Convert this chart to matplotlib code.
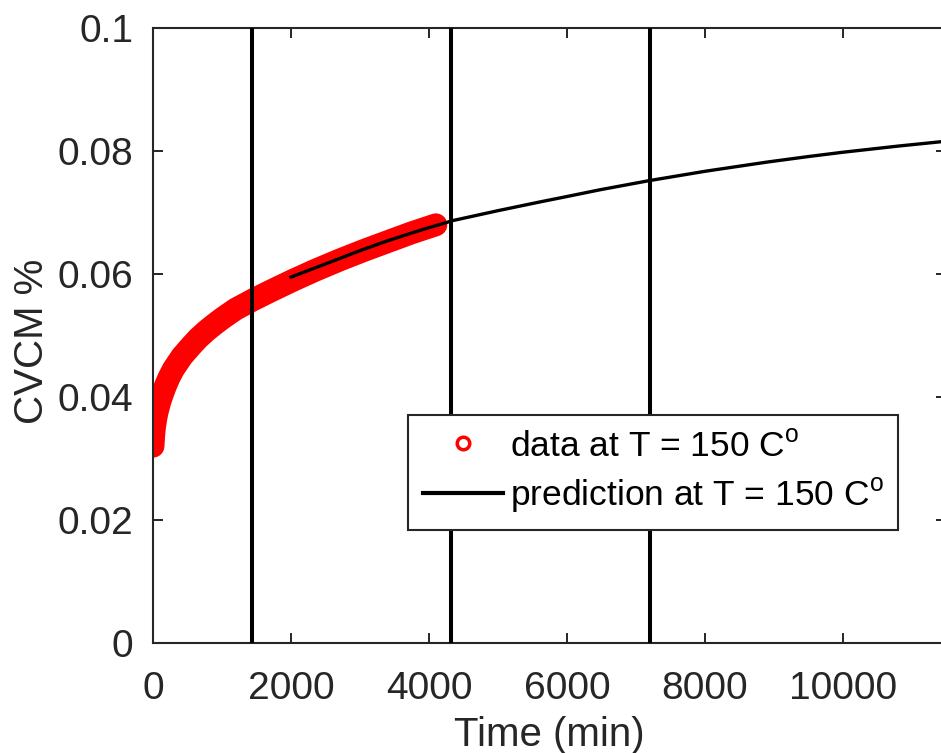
import matplotlib
matplotlib.use("Agg")
from matplotlib import pyplot
from matplotlib.lines import Line2D
from matplotlib.ticker import FormatStrFormatter

data_time = [0, 10, 20, 40, 60, 100, 140, 180, 230, 294, 420, 560, 660, 778, 900,
             1019, 1200, 1450, 1700, 2034, 2350, 2710, 3050, 3435, 3750, 4100]
data_cvcm = [0.0320, 0.0338, 0.0350, 0.0365, 0.0376, 0.0393, 0.0406, 0.0418, 0.0431,
             0.0445, 0.0466, 0.0484, 0.0496, 0.0508, 0.0519, 0.0529, 0.0543, 0.0558,
             0.0572, 0.0590, 0.0606, 0.0623, 0.0638, 0.0654, 0.0667, 0.0680]

# model prediction at 150 C
pred_time = [2000, 2700, 3000, 3400, 3900, 4350, 5000, 5600, 6000, 6480, 7200,
             8000, 8900, 9500, 10000, 10800, 11500]
pred_cvcm = [0.0595, 0.0625, 0.0638, 0.0654, 0.0672, 0.0687, 0.0703, 0.0717, 0.0726,
             0.0737, 0.0752, 0.0767, 0.0782, 0.0791, 0.0798, 0.0808, 0.0816]

# marker times: 1, 3 and 5 days in minutes
day_marks = [1440, 4320, 7200]

x_ticks = [0, 2000, 4000, 6000, 8000, 10000]
y_ticks = [0, 0.02, 0.04, 0.06, 0.08, 0.1]

pyplot.rcParams['font.family'] = ['Liberation Sans', 'DejaVu Sans']
pyplot.rcParams['mathtext.fontset'] = 'custom'
pyplot.rcParams['mathtext.rm'] = 'Liberation Sans'

W, H = 941, 753
fig = pyplot.figure(figsize=(W / 100, H / 100), dpi=100)
ax = fig.add_axes([153 / W, (H - 643) / H, 793.5 / W, 615 / H])

ax.plot(data_time, data_cvcm, color='red', lw=16.5, solid_capstyle='round',
        solid_joinstyle='round', zorder=2)
ax.plot(pred_time, pred_cvcm, color='black', lw=2.4, zorder=3)
for t in day_marks:
    ax.axvline(t, color='black', lw=2.9, zorder=4)

ax.set_xlim(0, 11500)
ax.set_ylim(0, 0.1)
ax.set_xticks(x_ticks)
ax.set_yticks(y_ticks)
ax.yaxis.set_major_formatter(FormatStrFormatter('%g'))
ax.tick_params(direction='in', length=7, width=1.4, color='#262626',
               labelsize=28, labelcolor='#262626', top=True, right=True, pad=14)
ax.tick_params(axis='x', pad=20)
for s in ax.spines.values():
    s.set_color('#262626')
    s.set_linewidth(1.5)

ax.set_xlabel('Time (min)', fontsize=29, color='#262626')
ax.set_ylabel('CVCM %', fontsize=29, color='#262626')
ax.xaxis.set_label_coords(0.5, -0.118)
ax.yaxis.set_label_coords(-0.128, 0.49)

handles = [
    Line2D([], [], ls='none', marker='o', markersize=9, markerfacecolor='none',
           markeredgecolor='red', markeredgewidth=2.5),
    Line2D([], [], color='black', lw=3),
]
labels = ['data at T = 150 C$^{\\mathregular{o}}$',
          'prediction at T = 150 C$^{\\mathregular{o}}$']
leg = fig.legend(handles, labels, loc='upper left', bbox_to_anchor=(408 / W, 1 - 415 / H),
                 fontsize=25.5, frameon=True, fancybox=False, framealpha=1,
                 edgecolor='#262626', borderpad=0.42, handlelength=2.25,
                 handletextpad=0.2, labelspacing=0.35, borderaxespad=0)
leg.get_frame().set_linewidth(1.5)

pyplot.savefig('out.png', dpi=100)
